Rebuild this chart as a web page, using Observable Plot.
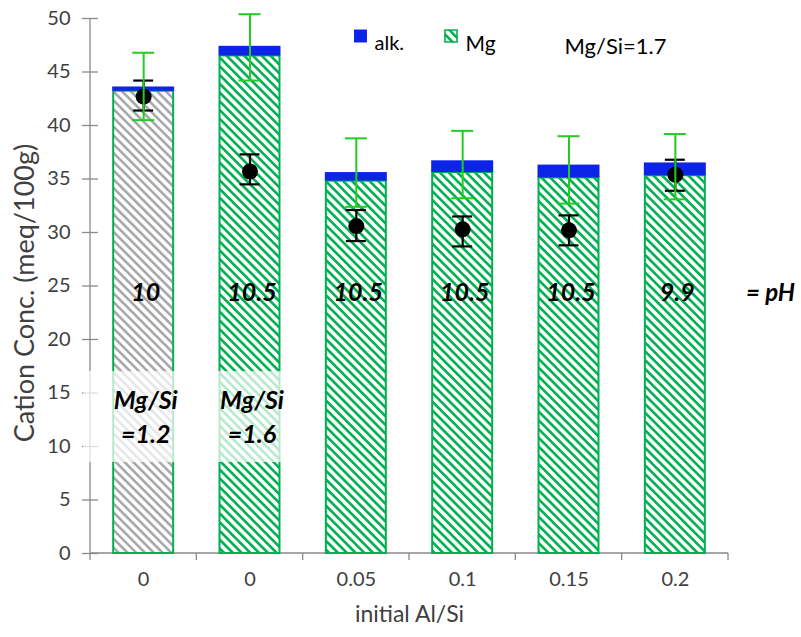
<!DOCTYPE html>
<html>
<head>
<meta charset="utf-8">
<script src="https://cdn.jsdelivr.net/npm/d3@7"></script>
<script src="https://cdn.jsdelivr.net/npm/@observablehq/plot@0.6"></script>
<style>
  html, body { margin: 0; padding: 0; background: #fff; }
  #chart { width: 801px; height: 637px; }
</style>
</head>
<body>
<div id="chart"></div>
<script>
// ---- data ----
const categories = ["0", "0", "0.05", "0.1", "0.15", "0.2"];
const mgValues   = [43.2, 46.5, 34.8, 35.6, 35.1, 35.3];
const alkValues  = [0.4, 0.9, 0.8, 1.1, 1.2, 1.2];
const errLow     = [40.5, 44.2, 32.4, 33.2, 32.7, 33.1];
const errHigh    = [46.8, 50.4, 38.8, 39.5, 39.0, 39.2];
const dotValues  = [42.7, 35.7, 30.6, 30.3, 30.2, 35.4];
const dotLow     = [41.4, 34.5, 29.2, 28.7, 28.8, 33.9];
const dotHigh    = [44.2, 37.3, 32.1, 31.5, 31.6, 36.8];
const phLabels   = ["10", "10.5", "10.5", "10.5", "10.5", "9.9"];
const phY        = 24.3;
const mgSiLabels = ["Mg/Si\n=1.2", "Mg/Si\n=1.6"];
const mgSiY      = 12.9;
const fadeBand   = [8.5, 17];
const yTicks     = [0, 5, 10, 15, 20, 25, 30, 35, 40, 45, 50];

const data = categories.map((c, i) => ({
  i, cat: c, mg: mgValues[i], alk: alkValues[i], total: mgValues[i] + alkValues[i],
  lo: errLow[i], hi: errHigh[i], dot: dotValues[i], dlo: dotLow[i], dhi: dotHigh[i],
  ph: phLabels[i], gray: i === 0
}));

const GREEN = "#00b050", ERR = "#22cc22", BLUE = "#0b24e8", AXIS = "#8a8a8a", TXT = "#404040";
const FONT = "Lato, 'Open Sans', sans-serif";
const W = 801, H = 637, ML = 90, MR = 73, MT = 18, MB = 84;
const FW = W - ML - MR;

function defsMark() {
  const defs = d3.create("svg:defs");
  const mk = (id, color) => {
    const p = defs.append("pattern").attr("id", id).attr("patternUnits", "userSpaceOnUse")
      .attr("width", 6.2).attr("height", 6.2).attr("patternTransform", "rotate(-45)");
    p.append("rect").attr("width", 6.2).attr("height", 6.2).attr("fill", "#fff");
    p.append("line").attr("x1", 3.1).attr("x2", 3.1).attr("y1", -1).attr("y2", 7.2)
      .attr("stroke", color).attr("stroke-width", 2.6);
  };
  mk("hatchGreen", GREEN);
  mk("hatchGray", "#a8a8a8");
  return defs.node();
}

function axisLines(index, scales, values, dims) {
  const g = d3.create("svg:g").attr("stroke", AXIS).attr("stroke-width", 1.3);
  const x0 = dims.marginLeft, x1 = dims.width - dims.marginRight;
  const y0 = dims.marginTop, y1 = dims.height - dims.marginBottom;
  g.append("line").attr("x1", x0).attr("x2", x0).attr("y1", y0).attr("y2", y1);
  g.append("line").attr("x1", x0).attr("x2", x1).attr("y1", y1).attr("y2", y1);
  const step = (x1 - x0) / categories.length;
  for (let k = 0; k <= categories.length; k++) {
    const xx = x0 + k * step;
    g.append("line").attr("x1", xx).attr("x2", xx).attr("y1", y1).attr("y2", y1 + 7);
  }
  return g.node();
}

const plot = Plot.plot({
  width: W, height: H,
  marginLeft: ML, marginRight: MR, marginTop: MT, marginBottom: MB,
  style: { fontFamily: FONT, background: "#fff" },
  x: { type: "band", domain: d3.range(categories.length), paddingInner: 0.436, paddingOuter: 0.218, round: false, axis: null },
  y: { domain: [0, 50], axis: null },
  marks: [
    defsMark,
    axisLines,
    Plot.ruleY(yTicks, { y: d => d, insetLeft: -8, insetRight: FW - 8, stroke: AXIS, strokeWidth: 1.3 }),
    Plot.text(yTicks, { y: d => d, frameAnchor: "left", dx: -20, textAnchor: "end", text: d => String(d), fontSize: 20, fill: TXT }),
    Plot.text(data, { x: "i", frameAnchor: "bottom", dy: 32, text: "cat", fontSize: 20, fill: TXT }),
    // bars
    Plot.barY(data.filter(d => d.gray), { x: "i", y1: 0, y2: "mg", fill: "url(#hatchGray)", stroke: GREEN, strokeWidth: 2 }),
    Plot.barY(data.filter(d => !d.gray), { x: "i", y1: 0, y2: "mg", fill: "url(#hatchGreen)", stroke: GREEN, strokeWidth: 2 }),
    Plot.barY(data, { x: "i", y1: "mg", y2: "total", fill: BLUE, insetLeft: -1, insetRight: -1 }),
    // fading box behind Mg/Si labels
    Plot.barY(data.filter(d => d.i < 2), { x: "i", y1: fadeBand[0], y2: fadeBand[1], fill: "#fff", fillOpacity: 0.72, insetLeft: -30, insetRight: -30 }),
    // black points with error bars
    Plot.ruleX(data, { x: "i", y1: "dlo", y2: "dhi", stroke: "#000", strokeWidth: 2.2 }),
    Plot.tickY(data, { x: "i", y: "dlo", stroke: "#000", strokeWidth: 2.2, insetLeft: 20, insetRight: 20 }),
    Plot.tickY(data, { x: "i", y: "dhi", stroke: "#000", strokeWidth: 2.2, insetLeft: 20, insetRight: 20 }),
    Plot.dot(data, { x: "i", y: "dot", r: 8, fill: "#000" }),
    // green error bars
    Plot.ruleX(data, { x: "i", y1: "lo", y2: "hi", stroke: ERR, strokeWidth: 2 }),
    Plot.tickY(data, { x: "i", y: "lo", stroke: ERR, strokeWidth: 2, insetLeft: 19, insetRight: 19 }),
    Plot.tickY(data, { x: "i", y: "hi", stroke: ERR, strokeWidth: 2, insetLeft: 19, insetRight: 19 }),
    // pH labels
    Plot.text(data, { x: "i", y: phY, text: "ph", fontSize: 25, fontWeight: "bold", fontStyle: "italic", fill: "#000", dx: 2 }),
    Plot.text(["= pH"], { y: [phY], frameAnchor: "right", dx: 42, textAnchor: "middle", text: d => d, fontSize: 24, fontWeight: "bold", fontStyle: "italic", fill: "#000" }),
    // Mg/Si labels
    Plot.text(mgSiLabels, { x: (d, i) => i, y: mgSiY, text: d => d, fontSize: 25, fontWeight: "bold", fontStyle: "italic", lineHeight: 1.36, fill: "#000", dx: 2 }),
    // legend
    Plot.dot([0], { frameAnchor: "top-left", dx: 270, dy: 17.5, symbol: "square", r: 7.3, fill: BLUE }),
    Plot.text(["alk."], { frameAnchor: "top-left", dx: 284, dy: 17.5, text: d => d, textAnchor: "start", fontSize: 20, fill: "#000" }),
    Plot.dot([0], { frameAnchor: "top-left", dx: 360.5, dy: 17.5, symbol: "square", r: 6.8, fill: "url(#hatchGreen)", stroke: GREEN, strokeWidth: 1.6 }),
    Plot.text(["Mg"], { frameAnchor: "top-left", dx: 375, dy: 17.5, text: d => d, textAnchor: "start", fontSize: 21, fill: "#000" }),
    Plot.text(["Mg/Si=1.7"], { frameAnchor: "top-left", dx: 474, dy: 20, text: d => d, textAnchor: "start", fontSize: 22, fill: "#000" }),
    // axis titles
    Plot.text(["Cation Conc. (meq/100g)"], { frameAnchor: "left", dx: -65, dy: 7, rotate: -90, textAnchor: "middle", text: d => d, fontSize: 27, fill: TXT }),
    Plot.text(["initial Al/Si"], { frameAnchor: "bottom", dy: 68, text: d => d, fontSize: 23, fill: TXT })
  ]
});

document.getElementById("chart").appendChild(plot);
</script>
</body>
</html>
